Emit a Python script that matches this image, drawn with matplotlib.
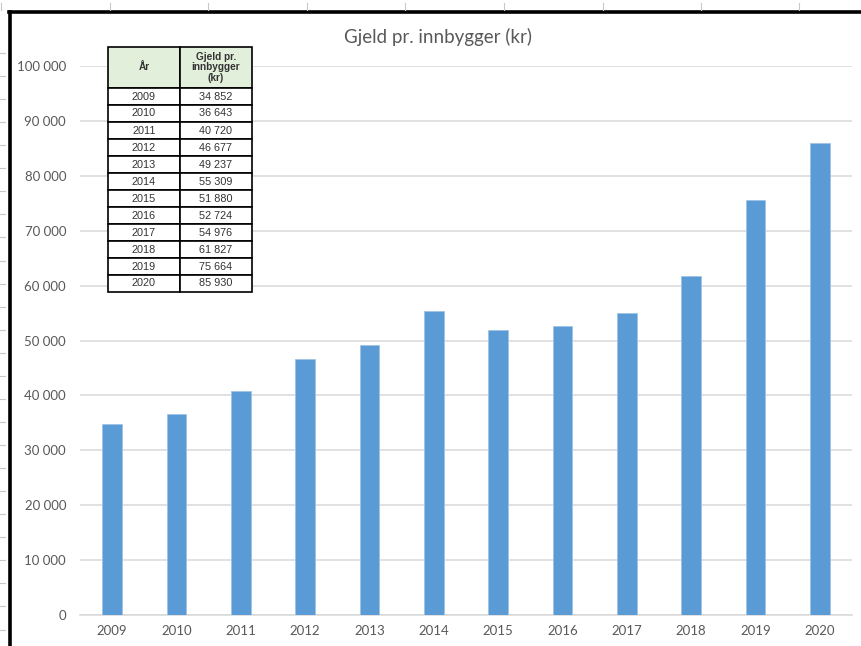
import matplotlib
matplotlib.use("Agg")
import matplotlib.pyplot as plt
from matplotlib.lines import Line2D

# data
years = ["2009", "2010", "2011", "2012", "2013", "2014",
         "2015", "2016", "2017", "2018", "2019", "2020"]
debt = [34852, 36643, 40720, 46677, 49237, 55309,
        51880, 52724, 54976, 61827, 75664, 85930]
y_ticks = [0, 10000, 20000, 30000, 40000, 50000,
           60000, 70000, 80000, 90000, 100000]
table_header = ["År", "Gjeld pr.\ninnbygger\n(kr)"]

W, H = 862, 646
GRAY = "#595959"
GRID = "#D9D9D9"
BAR = "#5B9BD5"


def fmt(v):
    return f"{v:,}".replace(",", " ")


plt.rcParams["font.family"] = ["Lato", "DejaVu Sans"]
fig = plt.figure(figsize=(W / 100, H / 100), dpi=100)
fig.patch.set_facecolor("white")

# plot area in pixels: x 80..852, y 66..615
ax = fig.add_axes([80 / W, 1 - 615 / H, 772 / W, 549 / H])
x = list(range(len(years)))
ax.bar(x, debt, width=0.31, color=BAR, edgecolor="#9DC3E6", linewidth=0.6, zorder=3)
ax.set_xlim(-0.5, len(years) - 0.5)
ax.set_ylim(0, 100000)
ax.set_yticks(y_ticks)
ax.set_yticklabels([fmt(v) for v in y_ticks], color=GRAY, fontsize=9.5)
ax.set_xticks(x)
ax.set_xticklabels(years, color=GRAY, fontsize=9.5)
ax.tick_params(axis="y", length=0, pad=10)
ax.tick_params(axis="x", length=0, pad=7)
ax.yaxis.grid(True, color=GRID, linewidth=1.1, zorder=0)
for s in ["top", "right", "left"]:
    ax.spines[s].set_visible(False)
ax.spines["bottom"].set_color(GRID)
ax.spines["bottom"].set_linewidth(1.1)
ax.set_facecolor("none")

fig.text(438 / W, 1 - 37 / H, "Gjeld pr. innbygger (kr)", ha="center", va="center",
         color=GRAY, fontsize=13.5)

# embedded table
rows = [[y, fmt(v)] for y, v in zip(years, debt)]
tb = ax.table(cellText=rows, colLabels=table_header, cellLoc="center",
              bbox=[(108 - 80) / 772, (615 - 292) / 549, 144 / 772, 245 / 549])
tb.set_zorder(10)
tb.auto_set_font_size(False)
for (r, c), cell in tb.get_celld().items():
    cell.set_edgecolor("black")
    cell.set_linewidth(1.2)
    cell.set_height(41 if r == 0 else 17)
    t = cell.get_text()
    t.set_family(["Liberation Sans", "DejaVu Sans"])
    t.set_color("#333333")
    if r == 0:
        cell.set_facecolor("#E2EFDA")
        t.set_fontweight("bold")
        t.set_fontsize(7.2)
        t.set_linespacing(1.05)
    else:
        cell.set_facecolor("white")
        t.set_fontsize(7.8)

# spreadsheet frame: thick black border and faint cell grid marks
def fline(xs, ys, **kw):
    fig.add_artist(Line2D([v / W for v in xs], [1 - v / H for v in ys], **kw))

fline([9, W], [12, 12], color="black", linewidth=2.6)
fline([10, 10], [12, H], color="black", linewidth=2.6)
for i in range(8):
    px = 110 + i * 98.5
    fline([px, px], [3, 10], color="#C8C8C8", linewidth=0.8)
fline([1, 1], [3, 10], color="#C8C8C8", linewidth=0.8)
for i in range(26):
    py = 53 + i * 23.06
    if py < H:
        fline([0, 5], [py, py], color="#C8C8C8", linewidth=0.8)

fig.savefig("out.png", dpi=100)
